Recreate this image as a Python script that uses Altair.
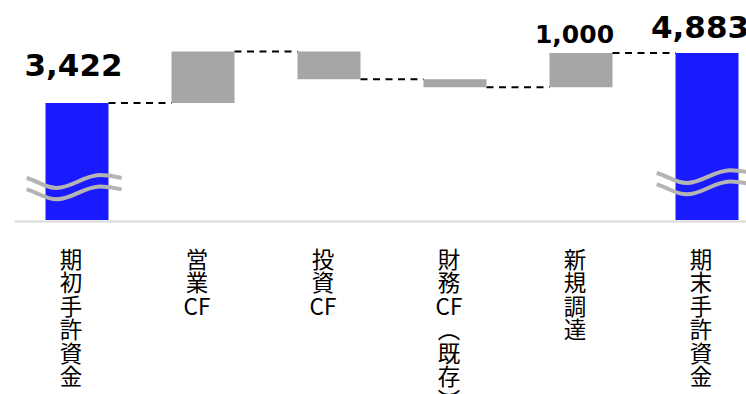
import json
import altair as alt
import pandas as pd

# ---- data ----
categories = ["期初手許資金", "営業CF", "投資CF", "財務CF(既存)", "新規調達", "期末手許資金"]
amounts = [3422, 1500, -810, -229, 1000, 4883]
is_total = [True, False, False, False, False, True]
labelled_categories = ["期初手許資金", "新規調達", "期末手許資金"]
break_categories = ["期初手許資金", "期末手許資金"]
break_levels = [965, 1110]

# ---- waterfall table ----
rows = []
running = 0
for cat, amt, tot in zip(categories, amounts, is_total):
    if tot:
        start, end = 0, amt
    else:
        start, end = running, running + amt
    running = end
    rows.append(dict(cat=cat, start=start, end=end, amount=amt,
                     kind="total" if tot else "delta", top=max(start, end)))
bars_df = pd.DataFrame(rows)

conn_df = pd.DataFrame({
    "cat": categories[:-1],
    "next": categories[1:],
    "level": [r["end"] for r in rows[:-1]],
})
breaks_df = pd.DataFrame({"cat": break_categories, "level": break_levels})


# ---- vertical axis labels (one glyph / latin run per line) ----
def tokens(s):
    out, buf = [], ""
    for ch in s:
        if ch.isascii() and ch.isalpha():
            buf += ch
            continue
        if buf:
            out.append(buf)
            buf = ""
        out.append({"(": "︵", ")": "︶"}.get(ch, ch))
    if buf:
        out.append(buf)
    return out


label_expr = ""
for c in categories:
    label_expr += "datum.label == " + json.dumps(c, ensure_ascii=False) + " ? " + \
        json.dumps(tokens(c), ensure_ascii=False) + " : "
label_expr += "datum.label"

x_scale = alt.Scale(domain=categories, paddingInner=0.5, paddingOuter=0.25, range=[0, 756])
y_scale = alt.Scale(domain=[0, 6430], nice=False, zero=True)

x_axis = alt.Axis(
    title=None, labelAngle=0, labelExpr=label_expr,
    labelFont="Noto Sans CJK JP", labelFontSize=22.5, labelLineHeight=23.5,
    labelColor="black", labelPadding=28, labelOffset=-6, labelBaseline="top",
    ticks=False, domainColor="#d9d9d9", domainWidth=2, offset=1,
    labelOverlap=False, labelLimit=0,
)


def xenc(**kw):
    return alt.X("cat:N", sort=categories, scale=x_scale, axis=x_axis, **kw)


bars = alt.Chart(bars_df).mark_bar().encode(
    x=xenc(),
    y=alt.Y("start:Q", scale=y_scale, axis=None),
    y2="end:Q",
    color=alt.Color("kind:N", scale=alt.Scale(domain=["total", "delta"],
                                              range=["#1a1aff", "#a6a6a6"]), legend=None),
)

connectors = alt.Chart(conn_df).mark_rule(
    color="black", strokeWidth=2, strokeDash=[7, 5.5]
).encode(
    x=xenc(bandPosition=1),
    x2=alt.X2("next:N", bandPosition=0),
    y=alt.Y("level:Q", scale=y_scale, axis=None),
)

wave = ("M-1.06,-0.19 C-0.81,-0.12 -0.66,0.02 -0.43,0.02 "
        "C-0.11,0.02 0.16,-0.25 0.48,-0.25 C0.69,-0.25 0.82,-0.22 0.94,-0.19 "
        "M-1.06,0.05 C-0.81,0.12 -0.66,0.26 -0.43,0.26 "
        "C-0.11,0.26 0.16,-0.01 0.48,-0.01 C0.69,-0.01 0.82,0.02 0.94,0.05")

breaks = alt.Chart(breaks_df).mark_point(
    shape=wave, size=9025, filled=False, stroke="#b4b4b4", strokeWidth=4, opacity=1
).encode(
    x=xenc(),
    y=alt.Y("level:Q", scale=y_scale, axis=None),
)

label_styles = {
    "期初手許資金": dict(dx=-3.5, dy=-27, fontSize=31),
    "新規調達": dict(dx=-6.5, dy=-10, fontSize=25),
    "期末手許資金": dict(dx=-7, dy=-15, fontSize=31),
}

label_layers = []
for cat in labelled_categories:
    st = label_styles[cat]
    label_layers.append(
        alt.Chart(bars_df).transform_filter(alt.datum.cat == cat).mark_text(
            font="Verdana, DejaVu Sans", fontWeight="bold", color="black",
            baseline="alphabetic", align="center", **st
        ).encode(
            x=xenc(),
            y=alt.Y("top:Q", scale=y_scale, axis=None),
            text=alt.Text("amount:Q", format=","),
        )
    )

chart = alt.layer(bars, connectors, breaks, *label_layers).properties(
    width=732, height=220,
    autosize=alt.AutoSizeParams(type="none"),
    padding={"left": 14, "top": 0, "right": 0, "bottom": 174},
    background="white",
).configure_view(stroke=None)

chart.save("out.html", embed_options={"renderer": "svg", "actions": False})
